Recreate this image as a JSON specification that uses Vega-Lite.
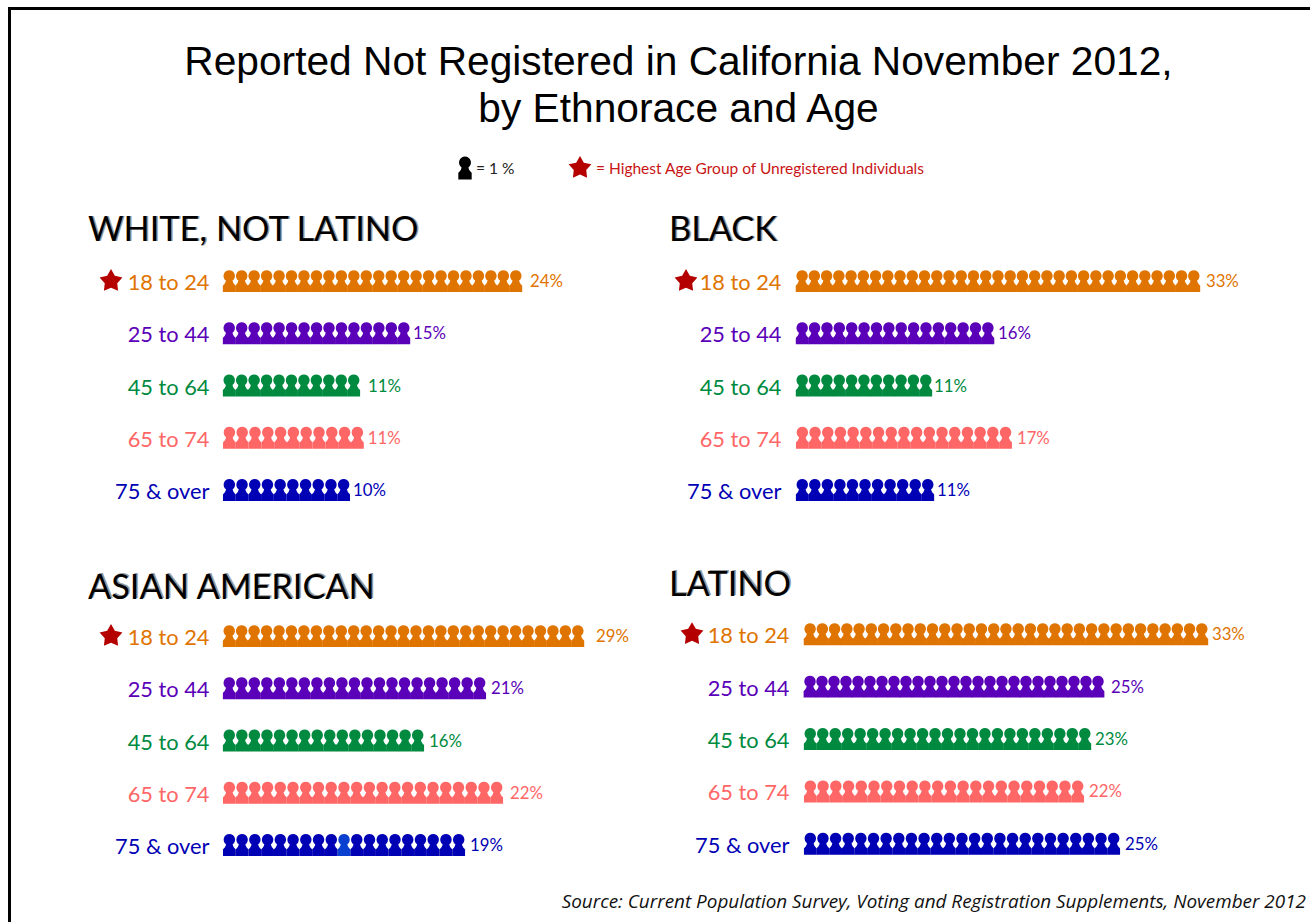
{"$schema":"https://vega.github.io/schema/vega-lite/v6.json","padding":{"left":8,"top":7,"right":0,"bottom":0},"autosize":{"type":"pad"},"background":"white","config":{"view":{"stroke":null},"font":"Lato","legend":{"disable":true},"text":{"dy":1},"range":{"category":["#e07400","#5a00b8","#008a40","#ff6666","#0000b4"]},"title":{"font":"Lato","fontWeight":"normal","baseline":"alphabetic"}},
"datasets":{
"values":[
{"group":"WHITE, NOT LATINO","age":"18 to 24","value":24,"label":"24%","top":true},{"group":"WHITE, NOT LATINO","age":"25 to 44","value":15,"label":"15%"},{"group":"WHITE, NOT LATINO","age":"45 to 64","value":11,"label":"11%"},{"group":"WHITE, NOT LATINO","age":"65 to 74","value":11,"label":"11%"},{"group":"WHITE, NOT LATINO","age":"75 & over","value":10,"label":"10%"},
{"group":"BLACK","age":"18 to 24","value":33,"label":"33%","top":true},{"group":"BLACK","age":"25 to 44","value":16,"label":"16%"},{"group":"BLACK","age":"45 to 64","value":11,"label":"11%"},{"group":"BLACK","age":"65 to 74","value":17,"label":"17%"},{"group":"BLACK","age":"75 & over","value":11,"label":"11%"},
{"group":"ASIAN AMERICAN","age":"18 to 24","value":29,"label":"29%","top":true},{"group":"ASIAN AMERICAN","age":"25 to 44","value":21,"label":"21%"},{"group":"ASIAN AMERICAN","age":"45 to 64","value":16,"label":"16%"},{"group":"ASIAN AMERICAN","age":"65 to 74","value":22,"label":"22%"},{"group":"ASIAN AMERICAN","age":"75 & over","value":19,"label":"19%"},
{"group":"LATINO","age":"18 to 24","value":33,"label":"33%","top":true},{"group":"LATINO","age":"25 to 44","value":25,"label":"25%"},{"group":"LATINO","age":"45 to 64","value":23,"label":"23%"},{"group":"LATINO","age":"65 to 74","value":22,"label":"22%"},{"group":"LATINO","age":"75 & over","value":25,"label":"25%"}],
"key":[{"item":"person","label":"= 1 %"},{"item":"star","label":"= Highest Age Group of Unregistered Individuals"}],
"white":[
{"age":"18 to 24","n":1},{"age":"18 to 24","n":2},{"age":"18 to 24","n":3},{"age":"18 to 24","n":4},{"age":"18 to 24","n":5},{"age":"18 to 24","n":6},{"age":"18 to 24","n":7},{"age":"18 to 24","n":8},{"age":"18 to 24","n":9},{"age":"18 to 24","n":10},{"age":"18 to 24","n":11},{"age":"18 to 24","n":12},{"age":"18 to 24","n":13},{"age":"18 to 24","n":14},{"age":"18 to 24","n":15},{"age":"18 to 24","n":16},{"age":"18 to 24","n":17},{"age":"18 to 24","n":18},{"age":"18 to 24","n":19},{"age":"18 to 24","n":20},{"age":"18 to 24","n":21},{"age":"18 to 24","n":22},{"age":"18 to 24","n":23},{"age":"18 to 24","n":24},
{"age":"25 to 44","n":1},{"age":"25 to 44","n":2},{"age":"25 to 44","n":3},{"age":"25 to 44","n":4},{"age":"25 to 44","n":5},{"age":"25 to 44","n":6},{"age":"25 to 44","n":7},{"age":"25 to 44","n":8},{"age":"25 to 44","n":9},{"age":"25 to 44","n":10},{"age":"25 to 44","n":11},{"age":"25 to 44","n":12},{"age":"25 to 44","n":13},{"age":"25 to 44","n":14},{"age":"25 to 44","n":15},
{"age":"45 to 64","n":1},{"age":"45 to 64","n":2},{"age":"45 to 64","n":3},{"age":"45 to 64","n":4},{"age":"45 to 64","n":5},{"age":"45 to 64","n":6},{"age":"45 to 64","n":7},{"age":"45 to 64","n":8},{"age":"45 to 64","n":9},{"age":"45 to 64","n":10},{"age":"45 to 64","n":11},
{"age":"65 to 74","n":1},{"age":"65 to 74","n":2},{"age":"65 to 74","n":3},{"age":"65 to 74","n":4},{"age":"65 to 74","n":5},{"age":"65 to 74","n":6},{"age":"65 to 74","n":7},{"age":"65 to 74","n":8},{"age":"65 to 74","n":9},{"age":"65 to 74","n":10},{"age":"65 to 74","n":11},
{"age":"75 & over","n":1},{"age":"75 & over","n":2},{"age":"75 & over","n":3},{"age":"75 & over","n":4},{"age":"75 & over","n":5},{"age":"75 & over","n":6},{"age":"75 & over","n":7},{"age":"75 & over","n":8},{"age":"75 & over","n":9},{"age":"75 & over","n":10}],
"black":[
{"age":"18 to 24","n":1},{"age":"18 to 24","n":2},{"age":"18 to 24","n":3},{"age":"18 to 24","n":4},{"age":"18 to 24","n":5},{"age":"18 to 24","n":6},{"age":"18 to 24","n":7},{"age":"18 to 24","n":8},{"age":"18 to 24","n":9},{"age":"18 to 24","n":10},{"age":"18 to 24","n":11},{"age":"18 to 24","n":12},{"age":"18 to 24","n":13},{"age":"18 to 24","n":14},{"age":"18 to 24","n":15},{"age":"18 to 24","n":16},{"age":"18 to 24","n":17},{"age":"18 to 24","n":18},{"age":"18 to 24","n":19},{"age":"18 to 24","n":20},{"age":"18 to 24","n":21},{"age":"18 to 24","n":22},{"age":"18 to 24","n":23},{"age":"18 to 24","n":24},{"age":"18 to 24","n":25},{"age":"18 to 24","n":26},{"age":"18 to 24","n":27},{"age":"18 to 24","n":28},{"age":"18 to 24","n":29},{"age":"18 to 24","n":30},{"age":"18 to 24","n":31},{"age":"18 to 24","n":32},{"age":"18 to 24","n":33},
{"age":"25 to 44","n":1},{"age":"25 to 44","n":2},{"age":"25 to 44","n":3},{"age":"25 to 44","n":4},{"age":"25 to 44","n":5},{"age":"25 to 44","n":6},{"age":"25 to 44","n":7},{"age":"25 to 44","n":8},{"age":"25 to 44","n":9},{"age":"25 to 44","n":10},{"age":"25 to 44","n":11},{"age":"25 to 44","n":12},{"age":"25 to 44","n":13},{"age":"25 to 44","n":14},{"age":"25 to 44","n":15},{"age":"25 to 44","n":16},
{"age":"45 to 64","n":1},{"age":"45 to 64","n":2},{"age":"45 to 64","n":3},{"age":"45 to 64","n":4},{"age":"45 to 64","n":5},{"age":"45 to 64","n":6},{"age":"45 to 64","n":7},{"age":"45 to 64","n":8},{"age":"45 to 64","n":9},{"age":"45 to 64","n":10},{"age":"45 to 64","n":11},
{"age":"65 to 74","n":1},{"age":"65 to 74","n":2},{"age":"65 to 74","n":3},{"age":"65 to 74","n":4},{"age":"65 to 74","n":5},{"age":"65 to 74","n":6},{"age":"65 to 74","n":7},{"age":"65 to 74","n":8},{"age":"65 to 74","n":9},{"age":"65 to 74","n":10},{"age":"65 to 74","n":11},{"age":"65 to 74","n":12},{"age":"65 to 74","n":13},{"age":"65 to 74","n":14},{"age":"65 to 74","n":15},{"age":"65 to 74","n":16},{"age":"65 to 74","n":17},
{"age":"75 & over","n":1},{"age":"75 & over","n":2},{"age":"75 & over","n":3},{"age":"75 & over","n":4},{"age":"75 & over","n":5},{"age":"75 & over","n":6},{"age":"75 & over","n":7},{"age":"75 & over","n":8},{"age":"75 & over","n":9},{"age":"75 & over","n":10},{"age":"75 & over","n":11}],
"asian":[
{"age":"18 to 24","n":1},{"age":"18 to 24","n":2},{"age":"18 to 24","n":3},{"age":"18 to 24","n":4},{"age":"18 to 24","n":5},{"age":"18 to 24","n":6},{"age":"18 to 24","n":7},{"age":"18 to 24","n":8},{"age":"18 to 24","n":9},{"age":"18 to 24","n":10},{"age":"18 to 24","n":11},{"age":"18 to 24","n":12},{"age":"18 to 24","n":13},{"age":"18 to 24","n":14},{"age":"18 to 24","n":15},{"age":"18 to 24","n":16},{"age":"18 to 24","n":17},{"age":"18 to 24","n":18},{"age":"18 to 24","n":19},{"age":"18 to 24","n":20},{"age":"18 to 24","n":21},{"age":"18 to 24","n":22},{"age":"18 to 24","n":23},{"age":"18 to 24","n":24},{"age":"18 to 24","n":25},{"age":"18 to 24","n":26},{"age":"18 to 24","n":27},{"age":"18 to 24","n":28},{"age":"18 to 24","n":29},
{"age":"25 to 44","n":1},{"age":"25 to 44","n":2},{"age":"25 to 44","n":3},{"age":"25 to 44","n":4},{"age":"25 to 44","n":5},{"age":"25 to 44","n":6},{"age":"25 to 44","n":7},{"age":"25 to 44","n":8},{"age":"25 to 44","n":9},{"age":"25 to 44","n":10},{"age":"25 to 44","n":11},{"age":"25 to 44","n":12},{"age":"25 to 44","n":13},{"age":"25 to 44","n":14},{"age":"25 to 44","n":15},{"age":"25 to 44","n":16},{"age":"25 to 44","n":17},{"age":"25 to 44","n":18},{"age":"25 to 44","n":19},{"age":"25 to 44","n":20},{"age":"25 to 44","n":21},
{"age":"45 to 64","n":1},{"age":"45 to 64","n":2},{"age":"45 to 64","n":3},{"age":"45 to 64","n":4},{"age":"45 to 64","n":5},{"age":"45 to 64","n":6},{"age":"45 to 64","n":7},{"age":"45 to 64","n":8},{"age":"45 to 64","n":9},{"age":"45 to 64","n":10},{"age":"45 to 64","n":11},{"age":"45 to 64","n":12},{"age":"45 to 64","n":13},{"age":"45 to 64","n":14},{"age":"45 to 64","n":15},{"age":"45 to 64","n":16},
{"age":"65 to 74","n":1},{"age":"65 to 74","n":2},{"age":"65 to 74","n":3},{"age":"65 to 74","n":4},{"age":"65 to 74","n":5},{"age":"65 to 74","n":6},{"age":"65 to 74","n":7},{"age":"65 to 74","n":8},{"age":"65 to 74","n":9},{"age":"65 to 74","n":10},{"age":"65 to 74","n":11},{"age":"65 to 74","n":12},{"age":"65 to 74","n":13},{"age":"65 to 74","n":14},{"age":"65 to 74","n":15},{"age":"65 to 74","n":16},{"age":"65 to 74","n":17},{"age":"65 to 74","n":18},{"age":"65 to 74","n":19},{"age":"65 to 74","n":20},{"age":"65 to 74","n":21},{"age":"65 to 74","n":22},
{"age":"75 & over","n":1},{"age":"75 & over","n":2},{"age":"75 & over","n":3},{"age":"75 & over","n":4},{"age":"75 & over","n":5},{"age":"75 & over","n":6},{"age":"75 & over","n":7},{"age":"75 & over","n":8},{"age":"75 & over","n":9},{"age":"75 & over","n":10},{"age":"75 & over","n":11},{"age":"75 & over","n":12},{"age":"75 & over","n":13},{"age":"75 & over","n":14},{"age":"75 & over","n":15},{"age":"75 & over","n":16},{"age":"75 & over","n":17},{"age":"75 & over","n":18},{"age":"75 & over","n":19}],
"latino":[
{"age":"18 to 24","n":1},{"age":"18 to 24","n":2},{"age":"18 to 24","n":3},{"age":"18 to 24","n":4},{"age":"18 to 24","n":5},{"age":"18 to 24","n":6},{"age":"18 to 24","n":7},{"age":"18 to 24","n":8},{"age":"18 to 24","n":9},{"age":"18 to 24","n":10},{"age":"18 to 24","n":11},{"age":"18 to 24","n":12},{"age":"18 to 24","n":13},{"age":"18 to 24","n":14},{"age":"18 to 24","n":15},{"age":"18 to 24","n":16},{"age":"18 to 24","n":17},{"age":"18 to 24","n":18},{"age":"18 to 24","n":19},{"age":"18 to 24","n":20},{"age":"18 to 24","n":21},{"age":"18 to 24","n":22},{"age":"18 to 24","n":23},{"age":"18 to 24","n":24},{"age":"18 to 24","n":25},{"age":"18 to 24","n":26},{"age":"18 to 24","n":27},{"age":"18 to 24","n":28},{"age":"18 to 24","n":29},{"age":"18 to 24","n":30},{"age":"18 to 24","n":31},{"age":"18 to 24","n":32},{"age":"18 to 24","n":33},
{"age":"25 to 44","n":1},{"age":"25 to 44","n":2},{"age":"25 to 44","n":3},{"age":"25 to 44","n":4},{"age":"25 to 44","n":5},{"age":"25 to 44","n":6},{"age":"25 to 44","n":7},{"age":"25 to 44","n":8},{"age":"25 to 44","n":9},{"age":"25 to 44","n":10},{"age":"25 to 44","n":11},{"age":"25 to 44","n":12},{"age":"25 to 44","n":13},{"age":"25 to 44","n":14},{"age":"25 to 44","n":15},{"age":"25 to 44","n":16},{"age":"25 to 44","n":17},{"age":"25 to 44","n":18},{"age":"25 to 44","n":19},{"age":"25 to 44","n":20},{"age":"25 to 44","n":21},{"age":"25 to 44","n":22},{"age":"25 to 44","n":23},{"age":"25 to 44","n":24},{"age":"25 to 44","n":25},
{"age":"45 to 64","n":1},{"age":"45 to 64","n":2},{"age":"45 to 64","n":3},{"age":"45 to 64","n":4},{"age":"45 to 64","n":5},{"age":"45 to 64","n":6},{"age":"45 to 64","n":7},{"age":"45 to 64","n":8},{"age":"45 to 64","n":9},{"age":"45 to 64","n":10},{"age":"45 to 64","n":11},{"age":"45 to 64","n":12},{"age":"45 to 64","n":13},{"age":"45 to 64","n":14},{"age":"45 to 64","n":15},{"age":"45 to 64","n":16},{"age":"45 to 64","n":17},{"age":"45 to 64","n":18},{"age":"45 to 64","n":19},{"age":"45 to 64","n":20},{"age":"45 to 64","n":21},{"age":"45 to 64","n":22},{"age":"45 to 64","n":23},
{"age":"65 to 74","n":1},{"age":"65 to 74","n":2},{"age":"65 to 74","n":3},{"age":"65 to 74","n":4},{"age":"65 to 74","n":5},{"age":"65 to 74","n":6},{"age":"65 to 74","n":7},{"age":"65 to 74","n":8},{"age":"65 to 74","n":9},{"age":"65 to 74","n":10},{"age":"65 to 74","n":11},{"age":"65 to 74","n":12},{"age":"65 to 74","n":13},{"age":"65 to 74","n":14},{"age":"65 to 74","n":15},{"age":"65 to 74","n":16},{"age":"65 to 74","n":17},{"age":"65 to 74","n":18},{"age":"65 to 74","n":19},{"age":"65 to 74","n":20},{"age":"65 to 74","n":21},{"age":"65 to 74","n":22},
{"age":"75 & over","n":1},{"age":"75 & over","n":2},{"age":"75 & over","n":3},{"age":"75 & over","n":4},{"age":"75 & over","n":5},{"age":"75 & over","n":6},{"age":"75 & over","n":7},{"age":"75 & over","n":8},{"age":"75 & over","n":9},{"age":"75 & over","n":10},{"age":"75 & over","n":11},{"age":"75 & over","n":12},{"age":"75 & over","n":13},{"age":"75 & over","n":14},{"age":"75 & over","n":15},{"age":"75 & over","n":16},{"age":"75 & over","n":17},{"age":"75 & over","n":18},{"age":"75 & over","n":19},{"age":"75 & over","n":20},{"age":"75 & over","n":21},{"age":"75 & over","n":22},{"age":"75 & over","n":23},{"age":"75 & over","n":24},{"age":"75 & over","n":25}]
},
"vconcat":[
{"width":1302,"height":3,"view":{"fill":"black","stroke":null},"data":{"values":[]},"mark":"text","encoding":{},
 "title":{"text":["Reported Not Registered in California November 2012,","by Ethnorace and Age"],"orient":"bottom","anchor":"middle","dx":19.5,"offset":33,"font":"Liberation Sans","fontSize":40.7,"lineHeight":47,"color":"black","fontWeight":"normal"}},
{"hconcat":[
 {"width":3,"height":912,"view":{"fill":"black","stroke":null},"data":{"values":[]},"mark":"text","encoding":{}},
 {"vconcat":[
  {"width":1075,"height":245,"data":{"name":"key"},
   "encoding":{"x":{"field":"item","type":"nominal","axis":null,"scale":{"type":"point","domain":["person","star"],"range":[242,357],"padding":0}},"y":{"field":"item","type":"nominal","axis":null,"scale":{"type":"point","range":[158,158],"padding":0}}},
   "layer":[
    {"transform":[{"filter":"datum.item==='person'"}],"mark":{"type":"point","filled":true,"opacity":1,"size":530,"color":"black","shape":"M-0.58,1L-0.58,0.42C-0.5,0.32 -0.33,0.2 -0.3,-0.05A0.52,0.52 0 1 1 0.3,-0.05C0.33,0.2 0.5,0.32 0.58,0.42L0.58,1Z"}},
    {"transform":[{"filter":"datum.item==='star'"}],"mark":{"type":"point","filled":true,"opacity":1,"size":576,"color":"#b50000","strokeWidth":0,"shape":"M0,-1L0.32,-0.445L0.95,-0.31L0.52,0.17L0.59,0.81L0,0.55L-0.59,0.81L-0.52,0.17L-0.95,-0.31L-0.32,-0.445Z"}},
    {"transform":[{"filter":"datum.item==='person'"}],"mark":{"type":"text","align":"left","dx":11,"fontSize":15.5,"color":"#222222"},"encoding":{"text":{"field":"label"}}},
    {"transform":[{"filter":"datum.item==='star'"}],"mark":{"type":"text","align":"left","dx":16,"fontSize":15.5,"color":"#c81414"},"encoding":{"text":{"field":"label"}}}
   ]},
  {"vconcat":[
   {"hconcat":[
    {"width":440,"height":261,"data":{"name":"white"},"title":{"text":"WHITE, NOT LATINO","anchor":"start","frame":"group","dx":-135,"offset":-35,"fontSize":34.3,"color":"black"},
     "resolve":{"scale":{"x":"independent"}},
     "encoding":{"y":{"field":"age","type":"ordinal","axis":{"title":null,"domain":false,"ticks":false,"labelPadding":14,"labelFontSize":21.8,"labelFont":"Lato","labelOffset":1.5,"labelColor":{"expr":"datum.value==='18 to 24'?'#e07400':datum.value==='25 to 44'?'#5a00b8':datum.value==='45 to 64'?'#008a40':datum.value==='65 to 74'?'#ff6666':'#0000b4'"}}},"color":{"field":"age","type":"nominal"}},
     "layer":[
      {"data":{"name":"values"},"transform":[{"filter":"datum.group==='WHITE, NOT LATINO'&&datum.top"}],"mark":{"type":"text","align":"left","dx":-133.5,"dy":-50.5,"fontSize":34.3},"encoding":{"x":{"datum":0,"axis":null,"scale":{"domain":[0,1],"range":[0,1]}},"text":{"field":"group"},"color":{"value":"#999999"}}},
      {"data":{"name":"values"},"transform":[{"filter":"datum.group==='WHITE, NOT LATINO'&&datum.top"}],"mark":{"type":"point","filled":true,"opacity":1,"size":576,"shape":"M0,-1L0.32,-0.445L0.95,-0.31L0.52,0.17L0.59,0.81L0,0.55L-0.59,0.81L-0.52,0.17L-0.95,-0.31L-0.32,-0.445Z"},"encoding":{"x":{"datum":0,"axis":null,"scale":{"domain":[0,1],"range":[-112,0]}},"color":{"value":"#b50000"}}},
      {"transform":[{"filter":"datum.age==='18 to 24'"}],"mark":{"type":"point","filled":true,"opacity":1,"size":484,"shape":"M-0.58,1L-0.58,0.42C-0.5,0.32 -0.33,0.2 -0.3,-0.05A0.52,0.52 0 1 1 0.3,-0.05C0.33,0.2 0.5,0.32 0.58,0.42L0.58,1Z"},"encoding":{"x":{"field":"n","type":"quantitative","axis":null,"scale":{"domain":[0,33],"range":[-6.23,404.95]}}}},
      {"data":{"name":"values"},"transform":[{"filter":"datum.group==='WHITE, NOT LATINO'&&datum.age==='18 to 24'"}],"mark":{"type":"text","align":"left","fontSize":16.8,"dx":14.2},"encoding":{"x":{"field":"value","type":"quantitative","axis":null,"scale":{"domain":[0,33],"range":[-6.23,404.95]}},"text":{"field":"label"}}},
      {"transform":[{"filter":"datum.age==='25 to 44'"}],"mark":{"type":"point","filled":true,"opacity":1,"size":484,"shape":"M-0.58,1L-0.58,0.42C-0.5,0.32 -0.33,0.2 -0.3,-0.05A0.52,0.52 0 1 1 0.3,-0.05C0.33,0.2 0.5,0.32 0.58,0.42L0.58,1Z"},"encoding":{"x":{"field":"n","type":"quantitative","axis":null,"scale":{"domain":[0,33],"range":[-6.24,405.28]}}}},
      {"data":{"name":"values"},"transform":[{"filter":"datum.group==='WHITE, NOT LATINO'&&datum.age==='25 to 44'"}],"mark":{"type":"text","align":"left","fontSize":16.8,"dx":9.2},"encoding":{"x":{"field":"value","type":"quantitative","axis":null,"scale":{"domain":[0,33],"range":[-6.24,405.28]}},"text":{"field":"label"}}},
      {"transform":[{"filter":"datum.age==='45 to 64'"}],"mark":{"type":"point","filled":true,"opacity":1,"size":484,"shape":"M-0.58,1L-0.58,0.42C-0.5,0.32 -0.33,0.2 -0.3,-0.05A0.52,0.52 0 1 1 0.3,-0.05C0.33,0.2 0.5,0.32 0.58,0.42L0.58,1Z"},"encoding":{"x":{"field":"n","type":"quantitative","axis":null,"scale":{"domain":[0,33],"range":[-6.23,404.63]}}}},
      {"data":{"name":"values"},"transform":[{"filter":"datum.group==='WHITE, NOT LATINO'&&datum.age==='45 to 64'"}],"mark":{"type":"text","align":"left","fontSize":16.8,"dx":14.2},"encoding":{"x":{"field":"value","type":"quantitative","axis":null,"scale":{"domain":[0,33],"range":[-6.23,404.63]}},"text":{"field":"label"}}},
      {"transform":[{"filter":"datum.age==='65 to 74'"}],"mark":{"type":"point","filled":true,"opacity":1,"size":484,"shape":"M-0.58,1L-0.58,0.42C-0.5,0.32 -0.33,0.2 -0.3,-0.05A0.52,0.52 0 1 1 0.3,-0.05C0.33,0.2 0.5,0.32 0.58,0.42L0.58,1Z"},"encoding":{"x":{"field":"n","type":"quantitative","axis":null,"scale":{"domain":[0,33],"range":[-6.4,416]}}}},
      {"data":{"name":"values"},"transform":[{"filter":"datum.group==='WHITE, NOT LATINO'&&datum.age==='65 to 74'"}],"mark":{"type":"text","align":"left","fontSize":16.8,"dx":10.4},"encoding":{"x":{"field":"value","type":"quantitative","axis":null,"scale":{"domain":[0,33],"range":[-6.4,416]}},"text":{"field":"label"}}},
      {"transform":[{"filter":"datum.age==='75 & over'"}],"mark":{"type":"point","filled":true,"opacity":1,"size":484,"shape":"M-0.58,1L-0.58,0.42C-0.5,0.32 -0.33,0.2 -0.3,-0.05A0.52,0.52 0 1 1 0.3,-0.05C0.33,0.2 0.5,0.32 0.58,0.42L0.58,1Z"},"encoding":{"x":{"field":"n","type":"quantitative","axis":null,"scale":{"domain":[0,33],"range":[-6.35,412.75]}}}},
      {"data":{"name":"values"},"transform":[{"filter":"datum.group==='WHITE, NOT LATINO'&&datum.age==='75 & over'"}],"mark":{"type":"text","align":"left","fontSize":16.8,"dx":9.35},"encoding":{"x":{"field":"value","type":"quantitative","axis":null,"scale":{"domain":[0,33],"range":[-6.35,412.75]}},"text":{"field":"label"}}}
     ]},
    {"width":440,"height":261,"data":{"name":"black"},"title":{"text":"BLACK","anchor":"start","frame":"group","dx":-127,"offset":-35,"fontSize":34.3,"color":"black"},
     "resolve":{"scale":{"x":"independent"}},
     "encoding":{"y":{"field":"age","type":"ordinal","axis":{"title":null,"domain":false,"ticks":false,"labelPadding":15,"labelFontSize":21.8,"labelFont":"Lato","labelOffset":1.5,"labelColor":{"expr":"datum.value==='18 to 24'?'#e07400':datum.value==='25 to 44'?'#5a00b8':datum.value==='45 to 64'?'#008a40':datum.value==='65 to 74'?'#ff6666':'#0000b4'"}}},"color":{"field":"age","type":"nominal"}},
     "layer":[
      {"data":{"name":"values"},"transform":[{"filter":"datum.group==='BLACK'&&datum.top"}],"mark":{"type":"text","align":"left","dx":-125.5,"dy":-50.5,"fontSize":34.3},"encoding":{"x":{"datum":0,"axis":null,"scale":{"domain":[0,1],"range":[0,1]}},"text":{"field":"group"},"color":{"value":"#999999"}}},
      {"data":{"name":"values"},"transform":[{"filter":"datum.group==='BLACK'&&datum.top"}],"mark":{"type":"point","filled":true,"opacity":1,"size":576,"shape":"M0,-1L0.32,-0.445L0.95,-0.31L0.52,0.17L0.59,0.81L0,0.55L-0.59,0.81L-0.52,0.17L-0.95,-0.31L-0.32,-0.445Z"},"encoding":{"x":{"datum":0,"axis":null,"scale":{"domain":[0,1],"range":[-110,0]}},"color":{"value":"#b50000"}}},
      {"transform":[{"filter":"datum.age==='18 to 24'"}],"mark":{"type":"point","filled":true,"opacity":1,"size":484,"shape":"M-0.58,1L-0.58,0.42C-0.5,0.32 -0.33,0.2 -0.3,-0.05A0.52,0.52 0 1 1 0.3,-0.05C0.33,0.2 0.5,0.32 0.58,0.42L0.58,1Z"},"encoding":{"x":{"field":"n","type":"quantitative","axis":null,"scale":{"domain":[0,33],"range":[-6.12,397.8]}}}},
      {"data":{"name":"values"},"transform":[{"filter":"datum.group==='BLACK'&&datum.age==='18 to 24'"}],"mark":{"type":"text","align":"left","fontSize":16.8,"dx":12.1},"encoding":{"x":{"field":"value","type":"quantitative","axis":null,"scale":{"domain":[0,33],"range":[-6.12,397.8]}},"text":{"field":"label"}}},
      {"transform":[{"filter":"datum.age==='25 to 44'"}],"mark":{"type":"point","filled":true,"opacity":1,"size":484,"shape":"M-0.58,1L-0.58,0.42C-0.5,0.32 -0.33,0.2 -0.3,-0.05A0.52,0.52 0 1 1 0.3,-0.05C0.33,0.2 0.5,0.32 0.58,0.42L0.58,1Z"},"encoding":{"x":{"field":"n","type":"quantitative","axis":null,"scale":{"domain":[0,33],"range":[-6.19,402.35]}}}},
      {"data":{"name":"values"},"transform":[{"filter":"datum.group==='BLACK'&&datum.age==='25 to 44'"}],"mark":{"type":"text","align":"left","fontSize":16.8,"dx":10.2},"encoding":{"x":{"field":"value","type":"quantitative","axis":null,"scale":{"domain":[0,33],"range":[-6.19,402.35]}},"text":{"field":"label"}}},
      {"transform":[{"filter":"datum.age==='45 to 64'"}],"mark":{"type":"point","filled":true,"opacity":1,"size":484,"shape":"M-0.58,1L-0.58,0.42C-0.5,0.32 -0.33,0.2 -0.3,-0.05A0.52,0.52 0 1 1 0.3,-0.05C0.33,0.2 0.5,0.32 0.58,0.42L0.58,1Z"},"encoding":{"x":{"field":"n","type":"quantitative","axis":null,"scale":{"domain":[0,33],"range":[-6.18,401.7]}}}},
      {"data":{"name":"values"},"transform":[{"filter":"datum.group==='BLACK'&&datum.age==='45 to 64'"}],"mark":{"type":"text","align":"left","fontSize":16.8,"dx":8.2},"encoding":{"x":{"field":"value","type":"quantitative","axis":null,"scale":{"domain":[0,33],"range":[-6.18,401.7]}},"text":{"field":"label"}}},
      {"transform":[{"filter":"datum.age==='65 to 74'"}],"mark":{"type":"point","filled":true,"opacity":1,"size":484,"shape":"M-0.58,1L-0.58,0.42C-0.5,0.32 -0.33,0.2 -0.3,-0.05A0.52,0.52 0 1 1 0.3,-0.05C0.33,0.2 0.5,0.32 0.58,0.42L0.58,1Z"},"encoding":{"x":{"field":"n","type":"quantitative","axis":null,"scale":{"domain":[0,33],"range":[-6.35,412.75]}}}},
      {"data":{"name":"values"},"transform":[{"filter":"datum.group==='BLACK'&&datum.age==='65 to 74'"}],"mark":{"type":"text","align":"left","fontSize":16.8,"dx":11.35},"encoding":{"x":{"field":"value","type":"quantitative","axis":null,"scale":{"domain":[0,33],"range":[-6.35,412.75]}},"text":{"field":"label"}}},
      {"transform":[{"filter":"datum.age==='75 & over'"}],"mark":{"type":"point","filled":true,"opacity":1,"size":484,"shape":"M-0.58,1L-0.58,0.42C-0.5,0.32 -0.33,0.2 -0.3,-0.05A0.52,0.52 0 1 1 0.3,-0.05C0.33,0.2 0.5,0.32 0.58,0.42L0.58,1Z"},"encoding":{"x":{"field":"n","type":"quantitative","axis":null,"scale":{"domain":[0,33],"range":[-6.28,407.87]}}}},
      {"data":{"name":"values"},"transform":[{"filter":"datum.group==='BLACK'&&datum.age==='75 & over'"}],"mark":{"type":"text","align":"left","fontSize":16.8,"dx":9.3},"encoding":{"x":{"field":"value","type":"quantitative","axis":null,"scale":{"domain":[0,33],"range":[-6.28,407.87]}},"text":{"field":"label"}}}
     ]}
   ],"spacing":133,"bounds":"flush"},
   {"hconcat":[
    {"width":440,"height":261,"data":{"name":"asian"},"title":{"text":"ASIAN AMERICAN","anchor":"start","frame":"group","dx":-135,"offset":-36,"fontSize":34.3,"color":"black"},
     "resolve":{"scale":{"x":"independent"}},
     "encoding":{"y":{"field":"age","type":"ordinal","axis":{"title":null,"domain":false,"ticks":false,"labelPadding":14,"labelFontSize":21.8,"labelFont":"Lato","labelOffset":1.5,"labelColor":{"expr":"datum.value==='18 to 24'?'#e07400':datum.value==='25 to 44'?'#5a00b8':datum.value==='45 to 64'?'#008a40':datum.value==='65 to 74'?'#ff6666':'#0000b4'"}}},"color":{"field":"age","type":"nominal"}},
     "layer":[
      {"data":{"name":"values"},"transform":[{"filter":"datum.group==='ASIAN AMERICAN'&&datum.top"}],"mark":{"type":"text","align":"left","dx":-133.5,"dy":-48.5,"fontSize":34.3},"encoding":{"x":{"datum":0,"axis":null,"scale":{"domain":[0,1],"range":[0,1]}},"text":{"field":"group"},"color":{"value":"#999999"}}},
      {"data":{"name":"values"},"transform":[{"filter":"datum.group==='ASIAN AMERICAN'&&datum.top"}],"mark":{"type":"point","filled":true,"opacity":1,"size":576,"shape":"M0,-1L0.32,-0.445L0.95,-0.31L0.52,0.17L0.59,0.81L0,0.55L-0.59,0.81L-0.52,0.17L-0.95,-0.31L-0.32,-0.445Z"},"encoding":{"x":{"datum":0,"axis":null,"scale":{"domain":[0,1],"range":[-112,0]}},"color":{"value":"#b50000"}}},
      {"transform":[{"filter":"datum.age==='18 to 24'"}],"mark":{"type":"point","filled":true,"opacity":1,"size":484,"shape":"M-0.58,1L-0.58,0.42C-0.5,0.32 -0.33,0.2 -0.3,-0.05A0.52,0.52 0 1 1 0.3,-0.05C0.33,0.2 0.5,0.32 0.58,0.42L0.58,1Z"},"encoding":{"x":{"field":"n","type":"quantitative","axis":null,"scale":{"domain":[0,33],"range":[-6.23,404.63]}}}},
      {"data":{"name":"values"},"transform":[{"filter":"datum.group==='ASIAN AMERICAN'&&datum.age==='18 to 24'"}],"mark":{"type":"text","align":"left","fontSize":16.8,"dx":18.2},"encoding":{"x":{"field":"value","type":"quantitative","axis":null,"scale":{"domain":[0,33],"range":[-6.23,404.63]}},"text":{"field":"label"}}},
      {"transform":[{"filter":"datum.age==='25 to 44'"}],"mark":{"type":"point","filled":true,"opacity":1,"size":484,"shape":"M-0.58,1L-0.58,0.42C-0.5,0.32 -0.33,0.2 -0.3,-0.05A0.52,0.52 0 1 1 0.3,-0.05C0.33,0.2 0.5,0.32 0.58,0.42L0.58,1Z"},"encoding":{"x":{"field":"n","type":"quantitative","axis":null,"scale":{"domain":[0,33],"range":[-6.26,406.9]}}}},
      {"data":{"name":"values"},"transform":[{"filter":"datum.group==='ASIAN AMERICAN'&&datum.age==='25 to 44'"}],"mark":{"type":"text","align":"left","fontSize":16.8,"dx":11.3},"encoding":{"x":{"field":"value","type":"quantitative","axis":null,"scale":{"domain":[0,33],"range":[-6.26,406.9]}},"text":{"field":"label"}}},
      {"transform":[{"filter":"datum.age==='45 to 64'"}],"mark":{"type":"point","filled":true,"opacity":1,"size":484,"shape":"M-0.58,1L-0.58,0.42C-0.5,0.32 -0.33,0.2 -0.3,-0.05A0.52,0.52 0 1 1 0.3,-0.05C0.33,0.2 0.5,0.32 0.58,0.42L0.58,1Z"},"encoding":{"x":{"field":"n","type":"quantitative","axis":null,"scale":{"domain":[0,33],"range":[-6.28,408.2]}}}},
      {"data":{"name":"values"},"transform":[{"filter":"datum.group==='ASIAN AMERICAN'&&datum.age==='45 to 64'"}],"mark":{"type":"text","align":"left","fontSize":16.8,"dx":11.3},"encoding":{"x":{"field":"value","type":"quantitative","axis":null,"scale":{"domain":[0,33],"range":[-6.28,408.2]}},"text":{"field":"label"}}},
      {"transform":[{"filter":"datum.age==='65 to 74'"}],"mark":{"type":"point","filled":true,"opacity":1,"size":484,"shape":"M-0.58,1L-0.58,0.42C-0.5,0.32 -0.33,0.2 -0.3,-0.05A0.52,0.52 0 1 1 0.3,-0.05C0.33,0.2 0.5,0.32 0.58,0.42L0.58,1Z"},"encoding":{"x":{"field":"n","type":"quantitative","axis":null,"scale":{"domain":[0,33],"range":[-6.37,413.72]}}}},
      {"data":{"name":"values"},"transform":[{"filter":"datum.group==='ASIAN AMERICAN'&&datum.age==='65 to 74'"}],"mark":{"type":"text","align":"left","fontSize":16.8,"dx":13.4},"encoding":{"x":{"field":"value","type":"quantitative","axis":null,"scale":{"domain":[0,33],"range":[-6.37,413.72]}},"text":{"field":"label"}}},
      {"transform":[{"filter":"datum.age==='75 & over'"}],"mark":{"type":"point","filled":true,"opacity":1,"size":484,"shape":"M-0.58,1L-0.58,0.42C-0.5,0.32 -0.33,0.2 -0.3,-0.05A0.52,0.52 0 1 1 0.3,-0.05C0.33,0.2 0.5,0.32 0.58,0.42L0.58,1Z"},"encoding":{"x":{"field":"n","type":"quantitative","axis":null,"scale":{"domain":[0,33],"range":[-6.37,414.05]}},"color":{"condition":{"test":"datum.n===10","value":"#0a40d0"},"field":"age","type":"nominal"}}},
      {"data":{"name":"values"},"transform":[{"filter":"datum.group==='ASIAN AMERICAN'&&datum.age==='75 & over'"}],"mark":{"type":"text","align":"left","fontSize":16.8,"dx":11.4},"encoding":{"x":{"field":"value","type":"quantitative","axis":null,"scale":{"domain":[0,33],"range":[-6.37,414.05]}},"text":{"field":"label"}}}
     ]},
    {"width":440,"height":261,"data":{"name":"latino"},"title":{"text":"LATINO","anchor":"start","frame":"group","dx":-135,"offset":-36,"fontSize":34.3,"color":"black"},
     "resolve":{"scale":{"x":"independent"}},
     "encoding":{"y":{"field":"age","type":"ordinal","scale":{"range":[-2,260]},"axis":{"title":null,"domain":false,"ticks":false,"labelPadding":15,"labelFontSize":21.8,"labelFont":"Lato","labelOffset":1.5,"labelColor":{"expr":"datum.value==='18 to 24'?'#e07400':datum.value==='25 to 44'?'#5a00b8':datum.value==='45 to 64'?'#008a40':datum.value==='65 to 74'?'#ff6666':'#0000b4'"}}},"color":{"field":"age","type":"nominal"}},
     "layer":[
      {"data":{"name":"values"},"transform":[{"filter":"datum.group==='LATINO'&&datum.top"}],"mark":{"type":"text","align":"left","dx":-133.5,"dy":-49.5,"fontSize":34.3},"encoding":{"x":{"datum":0,"axis":null,"scale":{"domain":[0,1],"range":[0,1]}},"text":{"field":"group"},"color":{"value":"#999999"}}},
      {"data":{"name":"values"},"transform":[{"filter":"datum.group==='LATINO'&&datum.top"}],"mark":{"type":"point","filled":true,"opacity":1,"size":576,"shape":"M0,-1L0.32,-0.445L0.95,-0.31L0.52,0.17L0.59,0.81L0,0.55L-0.59,0.81L-0.52,0.17L-0.95,-0.31L-0.32,-0.445Z"},"encoding":{"x":{"datum":0,"axis":null,"scale":{"domain":[0,1],"range":[-112,0]}},"color":{"value":"#b50000"}}},
      {"transform":[{"filter":"datum.age==='18 to 24'"}],"mark":{"type":"point","filled":true,"opacity":1,"size":484,"shape":"M-0.58,1L-0.58,0.42C-0.5,0.32 -0.33,0.2 -0.3,-0.05A0.52,0.52 0 1 1 0.3,-0.05C0.33,0.2 0.5,0.32 0.58,0.42L0.58,1Z"},"encoding":{"x":{"field":"n","type":"quantitative","axis":null,"scale":{"domain":[0,33],"range":[-6.12,397.8]}}}},
      {"data":{"name":"values"},"transform":[{"filter":"datum.group==='LATINO'&&datum.age==='18 to 24'"}],"mark":{"type":"text","align":"left","fontSize":16.8,"dx":10.1},"encoding":{"x":{"field":"value","type":"quantitative","axis":null,"scale":{"domain":[0,33],"range":[-6.12,397.8]}},"text":{"field":"label"}}},
      {"transform":[{"filter":"datum.age==='25 to 44'"}],"mark":{"type":"point","filled":true,"opacity":1,"size":484,"shape":"M-0.58,1L-0.58,0.42C-0.5,0.32 -0.33,0.2 -0.3,-0.05A0.52,0.52 0 1 1 0.3,-0.05C0.33,0.2 0.5,0.32 0.58,0.42L0.58,1Z"},"encoding":{"x":{"field":"n","type":"quantitative","axis":null,"scale":{"domain":[0,33],"range":[-6,390]}}}},
      {"data":{"name":"values"},"transform":[{"filter":"datum.group==='LATINO'&&datum.age==='25 to 44'"}],"mark":{"type":"text","align":"left","fontSize":16.8,"dx":13},"encoding":{"x":{"field":"value","type":"quantitative","axis":null,"scale":{"domain":[0,33],"range":[-6,390]}},"text":{"field":"label"}}},
      {"transform":[{"filter":"datum.age==='45 to 64'"}],"mark":{"type":"point","filled":true,"opacity":1,"size":484,"shape":"M-0.58,1L-0.58,0.42C-0.5,0.32 -0.33,0.2 -0.3,-0.05A0.52,0.52 0 1 1 0.3,-0.05C0.33,0.2 0.5,0.32 0.58,0.42L0.58,1Z"},"encoding":{"x":{"field":"n","type":"quantitative","axis":null,"scale":{"domain":[0,33],"range":[-6.24,405.6]}}}},
      {"data":{"name":"values"},"transform":[{"filter":"datum.group==='LATINO'&&datum.age==='45 to 64'"}],"mark":{"type":"text","align":"left","fontSize":16.8,"dx":10.2},"encoding":{"x":{"field":"value","type":"quantitative","axis":null,"scale":{"domain":[0,33],"range":[-6.24,405.6]}},"text":{"field":"label"}}},
      {"transform":[{"filter":"datum.age==='65 to 74'"}],"mark":{"type":"point","filled":true,"opacity":1,"size":484,"shape":"M-0.58,1L-0.58,0.42C-0.5,0.32 -0.33,0.2 -0.3,-0.05A0.52,0.52 0 1 1 0.3,-0.05C0.33,0.2 0.5,0.32 0.58,0.42L0.58,1Z"},"encoding":{"x":{"field":"n","type":"quantitative","axis":null,"scale":{"domain":[0,33],"range":[-6.37,413.72]}}}},
      {"data":{"name":"values"},"transform":[{"filter":"datum.group==='LATINO'&&datum.age==='65 to 74'"}],"mark":{"type":"text","align":"left","fontSize":16.8,"dx":11.4},"encoding":{"x":{"field":"value","type":"quantitative","axis":null,"scale":{"domain":[0,33],"range":[-6.37,413.72]}},"text":{"field":"label"}}},
      {"transform":[{"filter":"datum.age==='75 & over'"}],"mark":{"type":"point","filled":true,"opacity":1,"size":484,"shape":"M-0.58,1L-0.58,0.42C-0.5,0.32 -0.33,0.2 -0.3,-0.05A0.52,0.52 0 1 1 0.3,-0.05C0.33,0.2 0.5,0.32 0.58,0.42L0.58,1Z"},"encoding":{"x":{"field":"n","type":"quantitative","axis":null,"scale":{"domain":[0,33],"range":[-6.32,410.8]}}}},
      {"data":{"name":"values"},"transform":[{"filter":"datum.group==='LATINO'&&datum.age==='75 & over'"}],"mark":{"type":"text","align":"left","fontSize":16.8,"dx":11.3},"encoding":{"x":{"field":"value","type":"quantitative","axis":null,"scale":{"domain":[0,33],"range":[-6.32,410.8]}},"text":{"field":"label"}}}
     ]}
   ],"spacing":141,"bounds":"flush"}
  ],"spacing":355,"bounds":"flush"},
  {"width":1083,"height":1,"data":{"values":[]},"mark":"text","encoding":{},
   "title":{"text":"Source: Current Population Survey, Voting and Registration Supplements, November 2012","orient":"bottom","anchor":"end","offset":637,"font":"Open Sans","fontSize":18.9,"fontStyle":"italic","color":"#111111"}}
 ],"spacing":0,"bounds":"flush"}
],"spacing":212,"bounds":"flush"}
],"spacing":0,"bounds":"flush"}
